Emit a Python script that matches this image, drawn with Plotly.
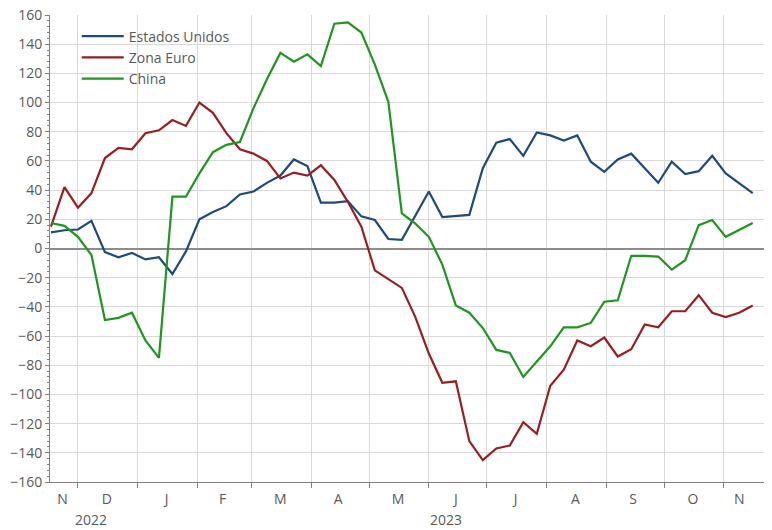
import pandas as pd
import plotly.graph_objects as go

# ---- data ----
dates = pd.date_range("2022-11-17", periods=53, freq="7D")
series_names = ["Estados Unidos", "Zona Euro", "China"]
us = [11, 12.5, 13, 19, -2.5, -6, -3, -7.5, -6, -17.5, -2, 20, 25, 29, 37, 39, 45, 50, 61, 56.5,
      31.5, 31.5, 32.5, 22, 19.5, 6.5, 6, 22, 39, 21.5, 22, 23, 55, 72.5, 75, 63.5, 79.5, 77.5,
      74, 77.5, 59.5, 52.5, 61, 65, 55, 45, 59.5, 51, 53, 63.5, 51.5, 45, 38]
euro = [15, 42, 28, 38, 62, 69, 68, 79, 81, 88, 84, 100, 93, 79, 68, 65, 60, 48, 52, 50,
        57, 47, 32, 15, -15, -21, -27, -47, -72, -92, -91, -132, -145, -137, -135, -119, -127,
        -94, -83, -63, -67, -61, -74, -69, -52, -54, -43, -43, -32, -44, -47, -44, -39]
china = [17.5, 15.5, 8, -4.5, -49, -47.5, -44, -63, -75, 35.5, 35.5, 51.5, 66, 71, 73, 96, 116,
         134, 128, 133, 125, 154, 155, 148, 126, 100.5, 24, 17, 8, -11, -39, -44, -54.5, -69.5,
         -71.5, -88, -77.5, -67, -54, -54, -51, -36.5, -35.5, -5, -5, -5.5, -14.5, -8, 16, 19.5,
         8, 12.5, 17.5]

month_labels = ["N", "D", "J", "F", "M", "A", "M", "J", "J", "A", "S", "O", "N"]
month_label_pos = ["2022-11-23", "2022-12-16", "2023-01-16", "2023-02-14", "2023-03-16",
                   "2023-04-15", "2023-05-16", "2023-06-15", "2023-07-16", "2023-08-16",
                   "2023-09-15", "2023-10-16", "2023-11-09"]
year_labels = ["2022", "2023"]
year_label_pos = ["2022-12-08", "2023-06-10"]

colors = ["#1f4a7c", "#9a1e20", "#1f961f"]
FONT = "Open Sans"
GREY_TXT = "#595959"

fig = go.Figure()
for name, vals, col in zip(series_names, [us, euro, china], colors):
    fig.add_trace(go.Scatter(x=dates, y=vals, mode="lines", name=name,
                             line=dict(color=col, width=2.2)))

for lab, pos in zip(year_labels, year_label_pos):
    fig.add_annotation(x=pos, y=0, xref="x", yref="paper", text=lab, showarrow=False,
                       yanchor="top", yshift=-27, borderpad=0,
                       font=dict(family=FONT, size=14, color=GREY_TXT))

# page body adds an 8px offset, so the figure is sized to fill the remaining window
fig.update_layout(
    width=764, height=522,
    margin=dict(l=42, r=0, t=7, b=48, autoexpand=False),
    paper_bgcolor="white", plot_bgcolor="white",
    font=dict(family=FONT, size=14, color=GREY_TXT),
    showlegend=True,
    legend=dict(x=0.037, y=0.988, xanchor="left", yanchor="top", bgcolor="rgba(0,0,0,0)",
                font=dict(family=FONT, size=14, color=GREY_TXT), tracegroupgap=0,
                itemwidth=42),
    xaxis=dict(
        type="date", automargin=False,
        range=["2022-11-16 12:00", "2023-11-26"],
        tickmode="array", tickvals=month_label_pos, ticktext=month_labels,
        ticks="", showgrid=False, ticklabelstandoff=4,
        showline=True, linecolor="#808080", linewidth=1,
        tickfont=dict(family=FONT, size=14, color=GREY_TXT),
        minor=dict(dtick="M1", tick0="2022-12-01", ticks="outside", ticklen=5,
                   tickcolor="#808080", showgrid=True, gridcolor="#d9d9d9", gridwidth=1),
        zeroline=False,
    ),
    yaxis=dict(
        range=[-160, 160], dtick=20, tick0=0, automargin=False,
        showgrid=True, gridcolor="#d9d9d9", gridwidth=1,
        zeroline=True, zerolinecolor="#8c8c8c", zerolinewidth=1.5,
        showline=True, linecolor="#808080", linewidth=1,
        ticks="outside", ticklen=4, tickcolor="#808080",
        ticklabeloverflow="allow",
        minor=dict(dtick=4, ticks="outside", ticklen=2, tickcolor="#808080", showgrid=False),
        tickfont=dict(family=FONT, size=14, color=GREY_TXT),
    ),
)

fig.write_html("out.html")
